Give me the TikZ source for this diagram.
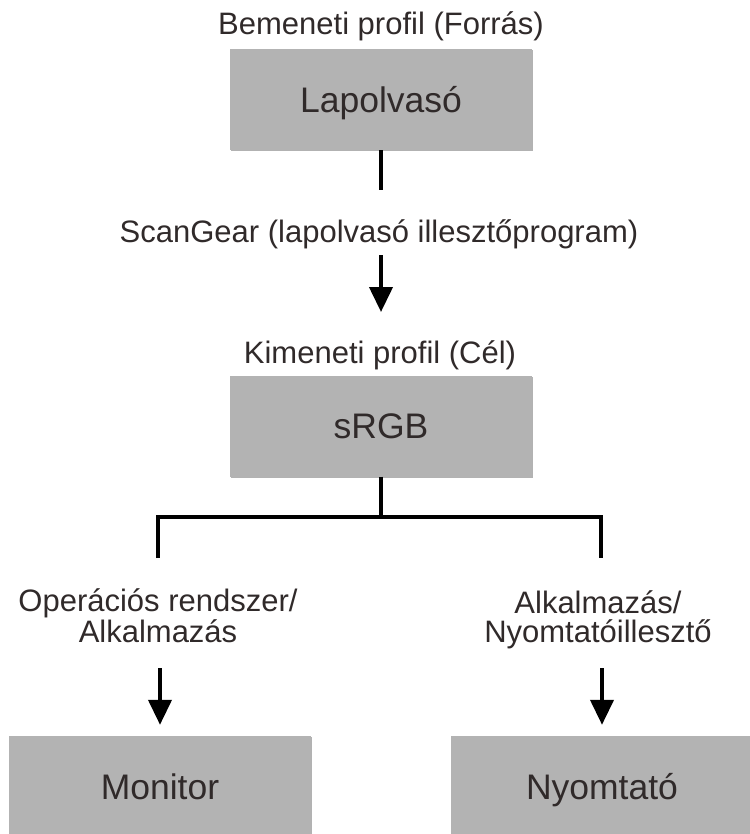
\documentclass[tikz,border=0pt]{standalone}
\usepackage{fontspec}
\setmainfont{Liberation Sans}
\usepackage{tikz}
\usetikzlibrary{arrows.meta, shadows}
\usepackage{xcolor}
\definecolor{boxgray}{RGB}{179,179,179}
\definecolor{inkgray}{RGB}{48,42,42}

\begin{document}
\begin{tikzpicture}[
x=1pt, y=1pt,
box/.style={rectangle, fill=boxgray, minimum width=302pt, minimum height=101pt, inner sep=0pt,
  text=inkgray, font=\fontsize{35.5}{40}\selectfont, text height=25.5pt, text depth=0pt,
  drop shadow={shadow xshift=1.2pt, shadow yshift=-1.2pt, fill=black, opacity=0.3}},
lbl/.style={inner sep=0pt, text=inkgray, font=\fontsize{31}{29}\selectfont, align=center},
conn/.style={line width=4pt},
arr/.style={line width=4pt, -{Triangle[length=25pt, width=23pt]}}
]
\useasboundingbox (0,0) rectangle (749,-834);

% scanner side
\node[lbl, anchor=base] (bemeneti) at (381,-35) {Bemeneti profil (Forrás)};
\node[box] (lapolvaso) at (381,-99.5) {Lapolvasó};
\node[lbl, anchor=base] (scangear) at (379,-242) {ScanGear (lapolvasó illesztőprogram)};
\node[lbl, anchor=base] (kimeneti) at (380,-363) {Kimeneti profil (Cél)};
\node[box] (srgb) at (381,-426) {sRGB};

% output side (base = last line)
\node[lbl, anchor=base] (oprendszer) at (158,-642) {Operációs rendszer/\\Alkalmazás};
\node[lbl, anchor=base] (nyomilleszto) at (598,-642) {Alkalmazás/\\Nyomtatóillesztő};
\node[box] (monitor) at (160,-786.5) {Monitor};
\node[box] (nyomtato) at (602,-786.5) {Nyomtató};

\coordinate (lapend) at (381,-190);
\coordinate (arr1s) at (381,-255);
\coordinate (arr1e) at (381,-312);
\coordinate (fork) at (381,-517);
\coordinate (forkL) at (158,-517);
\coordinate (forkR) at (601,-517);
\coordinate (dropL) at (158,-558);
\coordinate (dropR) at (601,-558);

\draw[conn] (lapolvaso.south) -- (lapend);
\draw[arr] (arr1s) -- (arr1e);
\draw[conn] (srgb.south) -- (fork);
\draw[conn] (dropL) -- (forkL) -- (forkR) -- (dropR);
\draw[arr] (monitor.north |- 0,-668) -- ([yshift=11pt]monitor.north);
\draw[arr] (nyomtato.north |- 0,-668) -- ([yshift=11pt]nyomtato.north);

\end{tikzpicture}
\end{document}
